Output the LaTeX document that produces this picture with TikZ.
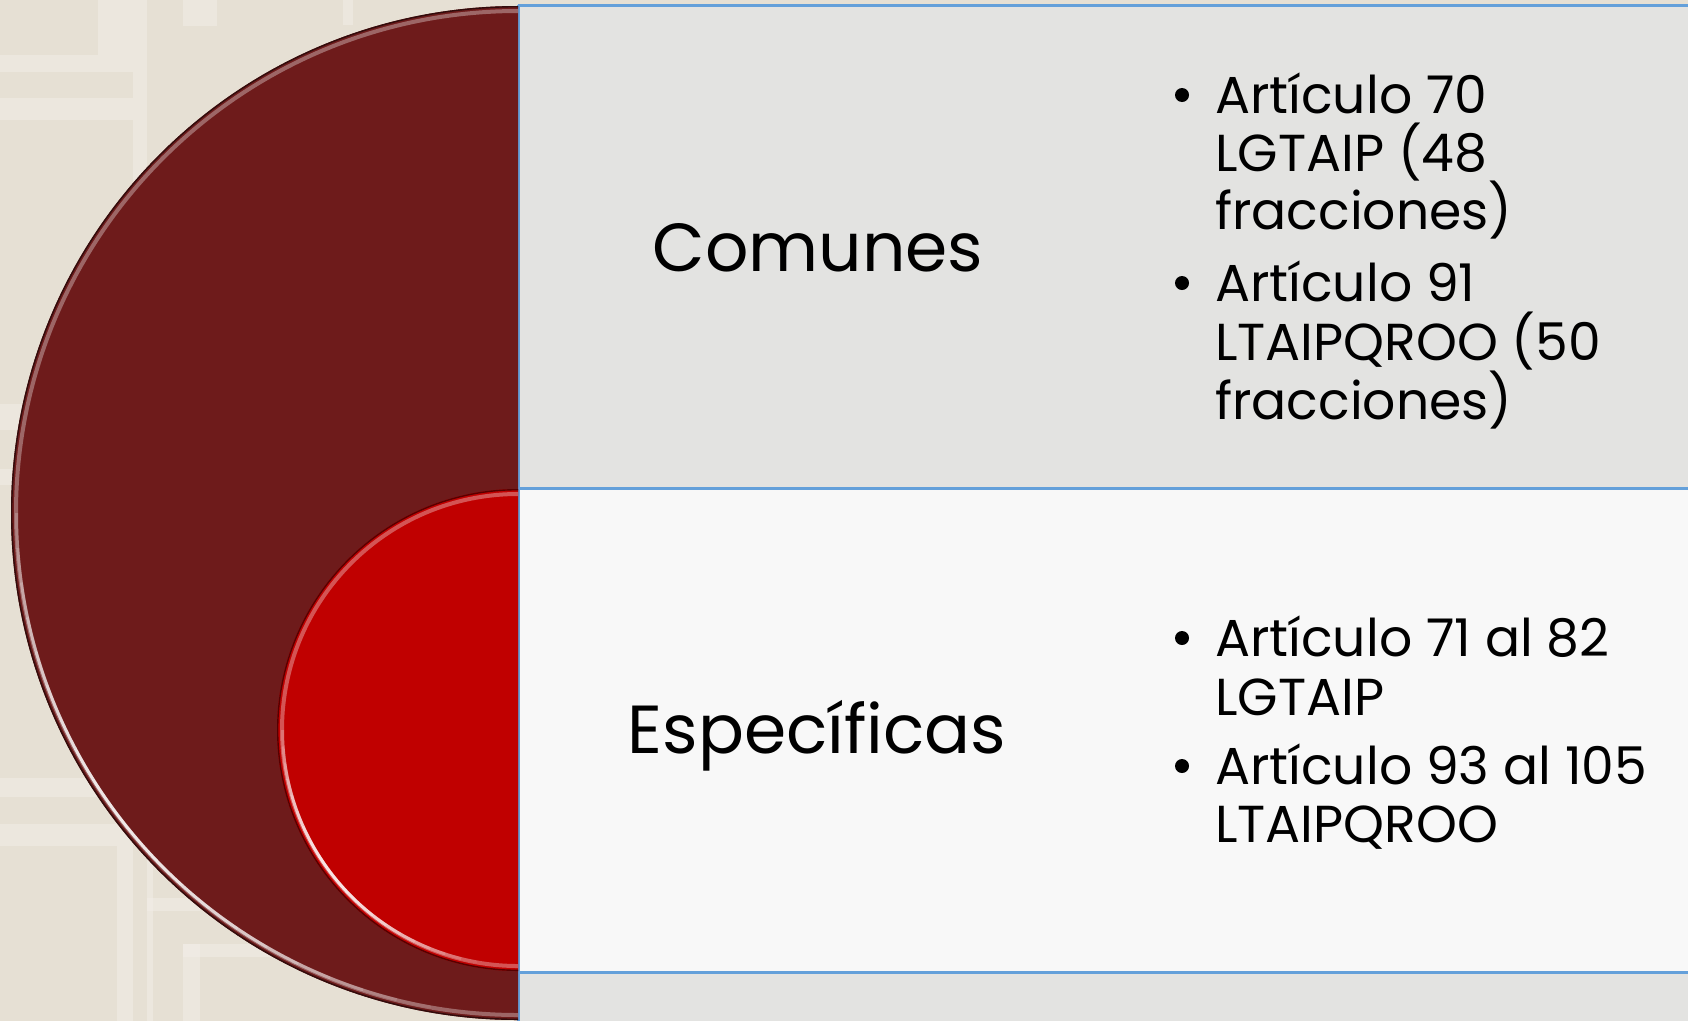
\documentclass[tikz,border=0pt]{standalone}
\usepackage{fontspec}
\setmainfont{Poppins}
\definecolor{wallbeige}{HTML}{E6E0D4}
\definecolor{wallstripe}{HTML}{F2EEE8}
\definecolor{darkwine}{HTML}{6E1B1B}
\definecolor{brightred}{HTML}{C00000}
\definecolor{panelgrey}{HTML}{E3E3E1}
\definecolor{panelwhite}{HTML}{F8F8F8}
\definecolor{edgeblue}{HTML}{64A0DA}
\tikzset{
    headtext/.style={anchor=base, inner sep=0pt, font=\fontsize{68}{82}\selectfont},
    itemtext/.style={anchor=base west, inner sep=0pt, font=\fontsize{52}{59}\selectfont},
    bulletdot/.style={circle, fill=black, inner sep=0pt, minimum size=14pt},
    edgeline/.style={edgeblue, line width=3pt},
}
% half disc cut at x=518, with a glossy rim
\newcommand\GlossyHalfDisc[4]{%
    \begin{scope}
        \clip (0,0) rectangle (518,1021);
        \fill[#4] (#1,#2) circle[radius=#3];
        \draw[black!55!#4, line width=1.4] (#1,#2) circle[radius=#3-0.7];
        \draw[#4!40!white, line width=4, opacity=0.55] (#1,#2) circle[radius=#3-5];
        \foreach \a [evaluate=\a as \op using {0.85*sin((\a-98)*180/84)}] in {100,104,...,178}
            \draw[white, line width=3, opacity=\op] (#1,#2) ++(\a:#3-5.5) arc[start angle=\a, end angle=\a+4, radius=#3-5.5];
    \end{scope}
}
\newcommand\BulletLine[3]{%
    \node[itemtext] (#1) at (1215,#2) {#3};
}

\begin{document}
\begin{tikzpicture}[x=1pt,y=-1pt]
    \useasboundingbox (0,0) rectangle (1688,1021);
    % wall
    \fill[wallbeige] (0,0) rectangle (1688,1021);
    \foreach \xa/\ya/\xb/\yb in {0/55/133/72, 0/98/133/120, 133/0/147/470, 98/0/133/55,
        183/0/217/26, 343/0/353/25, 0/404/30/430, 0/469/20/485,
        0/778/133/797, 0/824/133/846, 117/846/133/1021, 147/827/153/1021,
        147/898/200/911, 183/944/200/1021, 183/944/300/957}
        \fill[wallstripe, opacity=0.55] (\xa,\ya) rectangle (\xb,\yb);
    % panels
    \fill[panelgrey] (518,5) rectangle (1688,488);
    \fill[panelwhite] (518,488) rectangle (1688,972);
    \fill[panelgrey] (518,972) rectangle (1688,1021);
    \draw[edgeline] (518,5) -- (1688,5);
    \draw[edgeline] (518,488) -- (1688,488);
    \draw[edgeline] (518,972) -- (1688,972);
    \draw[edgeline] (518,5) -- (518,1021);
    % discs
    \GlossyHalfDisc{518}{513}{507}{darkwine}
    \GlossyHalfDisc{518}{730}{241}{brightred}
    % headings
    \node[headtext] (comunes) at (818,271) {Comunes};
    \node[headtext] (especificas) at (817,753) {Específicas};
    % items
    \node[bulletdot] (dotA) at (1182,95) {};
    \BulletLine{itemAa}{113}{Artículo 70}
    \BulletLine{itemAb}{171}{LGTAIP (48}
    \BulletLine{itemAc}{229}{fracciones)}
    \node[bulletdot] (dotB) at (1182,283) {};
    \BulletLine{itemBa}{301}{Artículo 91}
    \BulletLine{itemBb}{360}{LTAIPQROO (50}
    \BulletLine{itemBc}{419}{fracciones)}
    \node[bulletdot] (dotC) at (1182,638) {};
    \BulletLine{itemCa}{656}{Artículo 71 al 82}
    \BulletLine{itemCb}{715}{LGTAIP}
    \node[bulletdot] (dotD) at (1182,766) {};
    \BulletLine{itemDa}{784}{Artículo 93 al 105}
    \BulletLine{itemDb}{842}{LTAIPQROO}
\end{tikzpicture}
\end{document}
